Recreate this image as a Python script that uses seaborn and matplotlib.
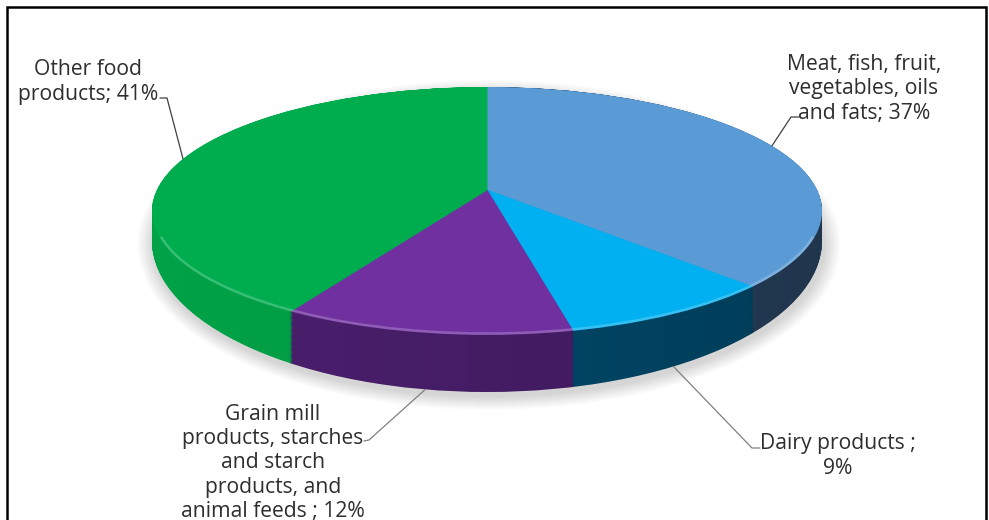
import numpy as np
import matplotlib
matplotlib.use("Agg")
import matplotlib.pyplot as plt
from matplotlib.patches import Ellipse, Rectangle, Arc, Polygon
from matplotlib.transforms import Affine2D
import seaborn as sns

# Shares of food-industry turnover by sub-sector (%)
names = [
    "Meat, fish, fruit,\nvegetables, oils\nand fats; ",
    "Dairy products ;\n",
    "Grain mill\nproducts, starches\nand starch\nproducts, and\nanimal feeds ; ",
    "Other food\nproducts; ",
]
shares = [37, 9, 12, 41]

top_colors = ["#5B9BD5", "#00B0F0", "#7030A0", "#00AD4E"]
side_colors = ["#2A4562", "#004D70", "#4B1F6E", "#00A247"]

sns.set_theme(style="white")
plt.rcParams["font.family"] = ["Open Sans", "DejaVu Sans"]

# canvas in pixels; y is compressed so that a circle becomes a flat ellipse
W, H = 989, 520
RX, RY = 335, 124          # top face radii (px)
K = RY / RX
CX, CY = 487, 211          # centre of the top-face outline (px)
HUB = 21                   # slices meet this far above the outline centre (tilt)
DROP, GROW = 30, 27        # wall bottom: shift down and extra vertical radius
NLAYER = 60
BIG = 1.5 * RX


def Y(py):
    return (H - py) / K


fig = plt.figure(figsize=(W / 100, H / 100), dpi=100)
ax = fig.add_axes([0, 0, 1, 1])
ax.set_xlim(0, W)
ax.set_ylim(0, H / K)


def draw_disc(colors, s, zorder):
    # one horizontal slice of the disc, s=0 top face, s=1 bottom edge
    g = (RY + GROW * s) / RY
    tr = (Affine2D().translate(-CX, -Y(CY)).scale(1, g)
          .translate(CX, Y(CY) - DROP * s / K) + ax.transData)
    outline = Ellipse((CX, Y(CY)), 2 * RX, 2 * RY / K, transform=tr)
    ws, _ = ax.pie(shares, colors=colors, startangle=90, counterclock=False,
                   radius=BIG, center=(CX, Y(CY - HUB)))
    for w in ws:
        w.set_transform(tr)
        w.set_edgecolor(w.get_facecolor())
        w.set_linewidth(0.6)
        w.set_clip_on(True)
        w.set_clip_path(outline)
        w.set_zorder(zorder)
    return ws


# soft drop shadow under the disc
for i in range(14):
    ax.add_patch(Ellipse((CX + 2, Y(CY + DROP + 4)),
                         2 * (RX + 1 + i * 1.2), 2 * (RY + GROW + 1 + i * 1.0) / K,
                         facecolor="#000000", edgecolor="none", alpha=0.012, zorder=0))

# side wall: stack of darker slices from the bottom up
for s in np.linspace(1, 0, NLAYER, endpoint=False):
    draw_disc(side_colors, s, 1)

# shading across the wall, darker towards the right
xs = np.linspace(CX - RX, CX + RX, 200)
root = np.sqrt(np.clip(1 - ((xs - CX) / RX) ** 2, 0, 1))
wall = np.column_stack([np.r_[xs, xs[::-1]],
                        Y(np.r_[CY + RY * root, (CY + DROP + (RY + GROW) * root)[::-1]])])
wall_patch = Polygon(wall, closed=True, transform=ax.transData, facecolor="none",
                     edgecolor="none")
ax.add_patch(wall_patch)
ramp = np.linspace(0.0, 1.0, 256)[None, :]
shade = np.zeros((1, 256, 4))
shade[..., 3] = 0.22 * ramp ** 1.3
img = ax.imshow(shade, extent=(CX - RX, CX + RX, Y(CY + DROP + RY + GROW + 2), Y(CY - 2)),
                aspect="auto", zorder=1.5, interpolation="bilinear")
img.set_clip_path(wall_patch)

# top face
wedges = draw_disc(top_colors, 0.0, 2)

# light rim along the front edge of the top face
ax.add_patch(Arc((CX, Y(CY)), 2 * RX - 3, 2 * (RY - 1.5) / K, theta1=192, theta2=348,
                 color="white", alpha=0.22, lw=1.8, zorder=4))

ax.set_aspect("auto")
ax.set_xlim(0, W)
ax.set_ylim(0, H / K)
ax.axis("off")


def rim_point(theta_deg):
    # where a slice's mid-ray leaves the top face (px)
    th = np.deg2rad(theta_deg)
    dx, dy = np.cos(th), -np.sin(th) * K
    y0 = CY - HUB
    a = (dx / RX) ** 2 + (dy / RY) ** 2
    b = 2 * (y0 - CY) * dy / RY ** 2
    c = ((y0 - CY) / RY) ** 2 - 1
    t = (-b + np.sqrt(b * b - 4 * a * c)) / (2 * a)
    return CX + t * dx, y0 + t * dy


# label layout: text centre, leader start/elbow (px), leader ends on wall bottom?
label_pos = [(864, 89), (838, 456), (273, 463), (88, 82)]
leader_start = [[(799, 117), (791, 117)], [(760, 448), (752, 448)],
                [(364, 441), (369, 440)], [(160, 98), (167, 98)]]
on_wall = [False, True, True, False]
line_colors = ["#404040", "#808080", "#808080", "#404040"]

for i, w in enumerate(wedges):
    px, py = rim_point(0.5 * (w.theta1 + w.theta2))
    if on_wall[i]:
        py = CY + DROP + (RY + GROW) * np.sqrt(max(0.0, 1 - ((px - CX) / RX) ** 2))
    pts = list(leader_start[i]) + [(px, py)]
    ax.plot([p[0] for p in pts], [Y(p[1]) for p in pts],
            color=line_colors[i], lw=0.9, zorder=5)
    tx, ty = label_pos[i]
    ax.text(tx, Y(ty), f"{names[i]}{shares[i]}%", ha="center", va="center",
            multialignment="center", fontsize=15.2, color="#2e2e2e",
            linespacing=1.2, zorder=6)

# chart frame
fig.add_artist(Rectangle((7 / W, -0.2), (986 - 7) / W, 1.2 - 7 / H,
                         transform=fig.transFigure, fill=False,
                         edgecolor="black", linewidth=1.8))

fig.savefig("out.png", dpi=100, facecolor="white")
